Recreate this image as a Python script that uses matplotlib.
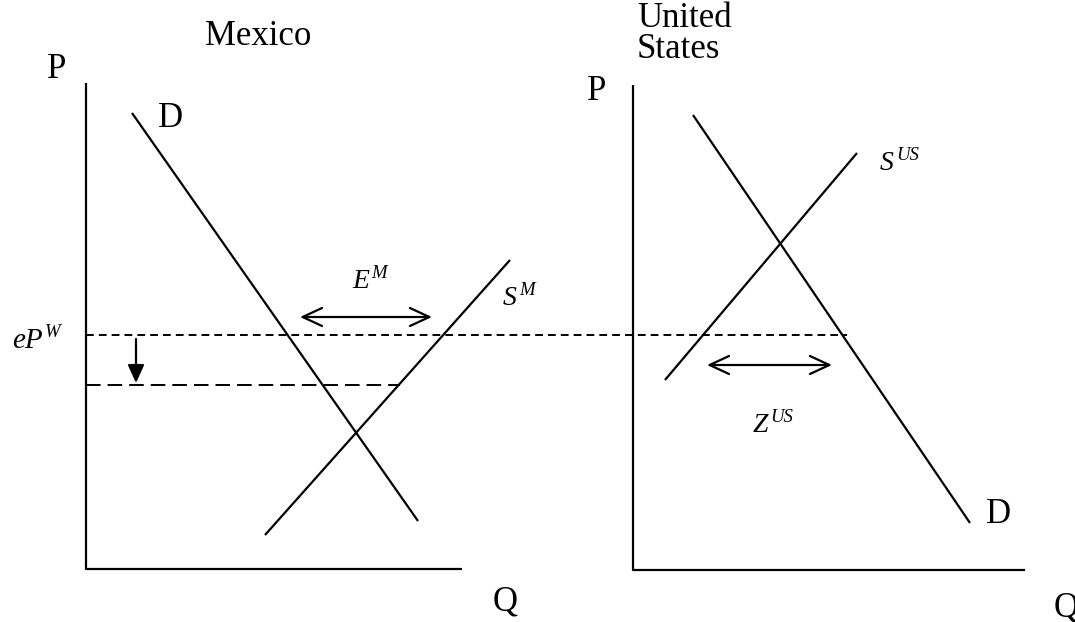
import matplotlib
matplotlib.use("Agg")
import matplotlib.pyplot as plt
from matplotlib.patches import FancyArrowPatch

# Canvas size (diagram units = pixels, y grows downward)
W, H = 1075, 622

# ---- diagram data (quantity = x, price = y on the canvas) ----
mex_axis_q = [86, 86, 462]
mex_axis_p = [83, 569, 569]
us_axis_q = [633, 633, 1025]
us_axis_p = [85, 570, 570]

mex_demand_q = [132, 418]
mex_demand_p = [113, 521]
mex_supply_q = [265, 510]
mex_supply_p = [535, 260]

us_demand_q = [693, 970]
us_demand_p = [115, 523]
us_supply_q = [665, 857]
us_supply_p = [380, 153]

world_price_q = [86, 847]      # eP^W line
world_price_p = [335, 335]
lower_price_q = [86, 400]      # lowered price line
lower_price_p = [385, 385]

export_arrow_q = [300, 432]    # E^M
export_arrow_p = [317, 317]
import_arrow_q = [707, 832]    # Z^US
import_arrow_p = [365, 365]
drop_arrow_q = [136, 136]
drop_arrow_p = [339, 383]

fig = plt.figure(figsize=(W / 100, H / 100), dpi=100)
ax = fig.add_axes([0, 0, 1, 1])
ax.set_xlim(0, W)
ax.set_ylim(H, 0)
ax.axis("off")

LW = 1.6
line_kw = dict(color="black", lw=LW, solid_capstyle="butt")

# axes
ax.plot(mex_axis_q, mex_axis_p, **line_kw)
ax.plot(us_axis_q, us_axis_p, **line_kw)

# curves
ax.plot(mex_demand_q, mex_demand_p, **line_kw)
ax.plot(mex_supply_q, mex_supply_p, **line_kw)
ax.plot(us_demand_q, us_demand_p, **line_kw)
ax.plot(us_supply_q, us_supply_p, **line_kw)

# dashed price lines
ax.plot(world_price_q, world_price_p, color="black", lw=1.4,
        linestyle=(0, (4.0, 2.6)))
ax.plot(lower_price_q, lower_price_p, color="black", lw=1.4,
        linestyle=(0, (7.5, 3.6)))

# arrows
def arrow(qs, ps, style):
    a = FancyArrowPatch((qs[0], ps[0]), (qs[1], ps[1]), arrowstyle=style,
                        mutation_scale=1, lw=LW, color="black",
                        shrinkA=0, shrinkB=0)
    ax.add_patch(a)

arrow(export_arrow_q, export_arrow_p, "<->,head_length=14,head_width=6.5")
arrow(import_arrow_q, import_arrow_p, "<->,head_length=14,head_width=6.5")
arrow(drop_arrow_q, drop_arrow_p, "-|>,head_length=11,head_width=5")

# plain labels
FONT = "Liberation Serif"
plain = dict(family=FONT, fontsize=25, color="black", va="baseline", ha="left")
ax.text(205, 45, "Mexico", **plain)
ax.text(47, 78, "P", **plain)
ax.text(158, 127, "D", **plain)
ax.text(493, 610, "Q", **plain)
ax.text(637, 58, "United\nStates", linespacing=0.93, **plain)
ax.text(587, 100, "P", **plain)
ax.text(986, 523, "D", **plain)
ax.text(1054, 616, "Q", **plain)

# labels with superscripts
def sup_label(x, y, base, sup, size=20):
    t = ax.text(x, y, base, family=FONT, style="italic", fontsize=size,
                color="black", va="baseline", ha="left")
    ax.annotate(sup, xy=(1, 1), xycoords=t, xytext=(1.5, 3),
                textcoords="offset points", family=FONT, style="italic",
                fontsize=13.5, color="black", va="top", ha="left")

sup_label(12, 348, "eP", "W", size=21)
sup_label(352, 288, "E", "M")
sup_label(503, 305, "S", "M")
sup_label(880, 170, "S", "US")
sup_label(753, 432, "Z", "US")

fig.savefig("out.png", dpi=100)
